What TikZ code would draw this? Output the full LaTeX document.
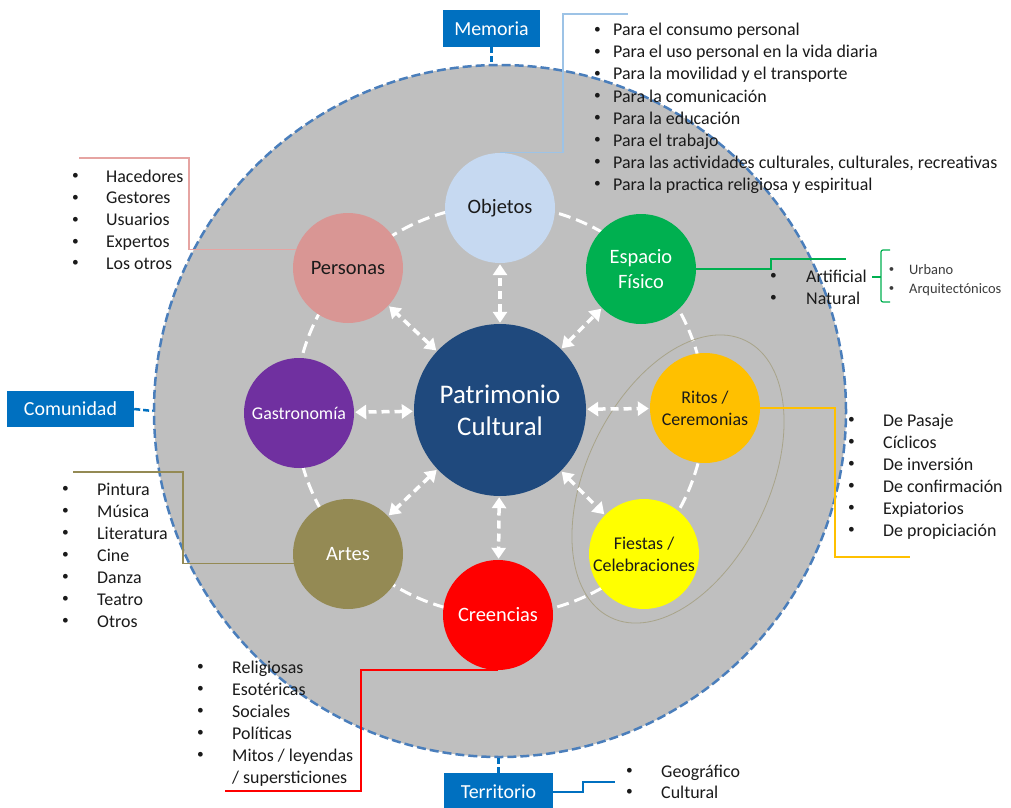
\documentclass[tikz,border=0pt]{standalone}
\usepackage{fontspec}
\setmainfont{Carlito}
\usetikzlibrary{arrows.meta}
\definecolor{bgray}{HTML}{BFBFBF}
\definecolor{rimblue}{HTML}{4A7EBB}
\definecolor{boxblue}{HTML}{0070C0}
\definecolor{pcblue}{HTML}{1F497D}
\definecolor{objblue}{HTML}{C6D9F1}
\definecolor{perpink}{HTML}{D99694}
\definecolor{espgreen}{HTML}{00B050}
\definecolor{ritorange}{HTML}{FFC000}
\definecolor{fieyellow}{HTML}{FFFF00}
\definecolor{crered}{HTML}{FF0000}
\definecolor{artolive}{HTML}{948A54}
\definecolor{gaspurple}{HTML}{7030A0}
\definecolor{objline}{HTML}{9DC3E6}
\definecolor{perline}{HTML}{E6A4A2}
\definecolor{ellgray}{HTML}{A8A48A}
\definecolor{txt}{HTML}{1A1A1A}
\newcommand\bulitem[2]{\llap{\raisebox{0.12em}{\scalebox{0.75}{\textbullet}}\hspace{#1}}#2}
\begin{document}
\begin{tikzpicture}[x=1bp,y=-1bp,
  bigc/.style={circle, minimum size=692bp, inner sep=0pt, fill=bgray, draw=rimblue, line width=2.5bp, dash pattern=on 9bp off 4bp},
  ring/.style={white, line width=3bp, dash pattern=on 12bp off 6bp},
  bub/.style={circle, minimum size=110bp, inner sep=0pt, align=center, text=txt, font=\fontsize{20.5}{25}\selectfont},
  smallbub/.style={bub, font=\fontsize{18}{22}\selectfont},
  arr/.style={white, line width=3.5bp, dash pattern=on 8bp off 5bp, shorten <=1bp, shorten >=1bp,
    {Triangle[width=14bp,length=11bp]}-{Triangle[width=14bp,length=11bp]}},
  lbox/.style={fill=boxblue, text=white, inner sep=0pt, font=\fontsize{20}{24}\selectfont},
  rimdash/.style={boxblue, line width=2.5bp, dash pattern=on 6bp off 3bp},
  item/.style={anchor=base west, inner sep=0pt, text=txt, font=\fontsize{18}{22}\selectfont},
  subitem/.style={anchor=base west, inner sep=0pt, text=txt!85, font=\fontsize{14.5}{19}\selectfont},
  conn/.style={line width=1.2bp}
]
\useasboundingbox[fill=white] (0,0) rectangle (1011,808);

% background circle and ring
\node[bigc] (bg) at (500,411) {};
\draw[ring] (500,410) circle [radius=205];
\draw[ellgray, line width=0.8bp, rotate around={64:(678,479)}] (678,479) ellipse [x radius=154, y radius=91];

% bubbles
\node[bub, fill=objblue] (obj) at (500,208) {Objetos};
\node[bub, fill=perpink] (per) at (348,268) {Personas};
\node[bub, fill=espgreen, text=white] (esp) at (641,269) {Espacio\\Físico};
\node[smallbub, fill=gaspurple, text=white] (gas) at (299,413) {Gastronomía};
\node[smallbub, fill=ritorange] (rit) at (705,408) {Ritos /\\Ceremonias};
\node[smallbub, fill=fieyellow] (fie) at (644,554) {Fiestas /\\Celebraciones};
\node[bub, fill=crered, text=white] (cre) at (498,615) {Creencias};
\node[bub, fill=artolive, text=white] (art) at (348,554) {Artes};
\node[circle, minimum size=172bp, inner sep=0pt, fill=pcblue, text=white, align=center,
  font=\fontsize{27}{32}\selectfont] (pc) at (500,410) {Patrimonio\\Cultural};

\foreach \n in {obj,per,esp,gas,rit,fie,cre,art}
  \draw[arr] (pc) -- (\n);

% boxes
\node[lbox, minimum width=97bp, minimum height=37bp] (mem) at (491.5,28.5) {Memoria};
\node[lbox, minimum width=127bp, minimum height=36bp] (com) at (70.5,409) {Comunidad};
\node[lbox, minimum width=109bp, minimum height=38bp] (ter) at (498.5,792) {Territorio};
\draw[rimdash] (mem.south) -- (mem.south |- bg.north);
\draw[rimdash] (com.east) -- (bg.west);
\draw[rimdash] (ter.north) -- (ter.north |- bg.south);

% lists
\foreach \t [count=\i from 0] in {Para el consumo personal, Para el uso personal en la vida diaria,
  Para la movilidad y el transporte, Para la comunicación, Para la educación, Para el trabajo,
  {Para las actividades culturales, culturales, recreativas}, Para la practica religiosa y espiritual}
  \node[item] (ob\i) at (613,{36+22*\i}) {\bulitem{12.5bp}{\t}};

\foreach \t [count=\i from 0] in {Hacedores, Gestores, Usuarios, Expertos, Los otros}
  \node[item] (pe\i) at (106,{182+21.75*\i}) {\bulitem{27.5bp}{\t}};

\foreach \t [count=\i from 0] in {Artificial, Natural}
  \node[item] (es\i) at (806,{282+22*\i}) {\bulitem{29.5bp}{\t}};

\foreach \t [count=\i from 0] in {Urbano, Arquitectónicos}
  \node[subitem] (su\i) at (909,{274+19*\i}) {\bulitem{15bp}{\t}};

\foreach \t [count=\i from 0] in {De Pasaje, Cíclicos, De inversión, De confirmación, Expiatorios, De propiciación}
  \node[item] (ri\i) at (883,{426+22*\i}) {\bulitem{28.5bp}{\t}};

\foreach \t [count=\i from 0] in {Pintura, Música, Literatura, Cine, Danza, Teatro, Otros}
  \node[item] (ar\i) at (97,{495+22*\i}) {\bulitem{28.5bp}{\t}};

\foreach \t [count=\i from 0] in {Religiosas, Esotéricas, Sociales, Políticas, Mitos / leyendas}
  \node[item] (cr\i) at (232,{673+22*\i}) {\bulitem{28.5bp}{\t}};
\node[item] (cr5) at (232,783) {/ supersticiones};

\foreach \t [count=\i from 0] in {Geográfico, Cultural}
  \node[item] (te\i) at (661,{777+21*\i}) {\bulitem{28.5bp}{\t}};

% connectors
\coordinate (oc) at (563,14); \coordinate (oe) at (628,14);
\draw[conn, objline] (obj.north) -| (oc) -- (oe);
\coordinate (pcn) at (189,158); \coordinate (pen) at (79,158);
\draw[conn, perline] (per.160) -| (pcn) -- (pen);
\coordinate (ecn) at (771,259); \coordinate (een) at (846,259);
\draw[conn, espgreen] (esp.east) -| (ecn) -- (een);
\coordinate (rcn) at (835,557); \coordinate (ren) at (910,557);
\draw[conn, ritorange] (rit.east) -| (rcn) -- (ren);
\coordinate (acn) at (183,472); \coordinate (aen) at (73,472);
\draw[conn, artolive] (art.190) -| (acn) -- (aen);
\coordinate (ccn) at (361,791); \coordinate (cen) at (225,791);
\draw[conn, crered, line width=1.5bp] (cre.south) -| (ccn) -- (cen);
\coordinate (tcn) at (583,782); \coordinate (ten) at (615,782);
\draw[conn, boxblue] (ter.east) -| (tcn) -- (ten);

% brace
\draw[conn, espgreen, rounded corners=2bp] (890,250) -- (881,250) -- (881,302) -- (890,302);
\draw[conn, espgreen] (881,277) -- (872,277);
\end{tikzpicture}
\end{document}
